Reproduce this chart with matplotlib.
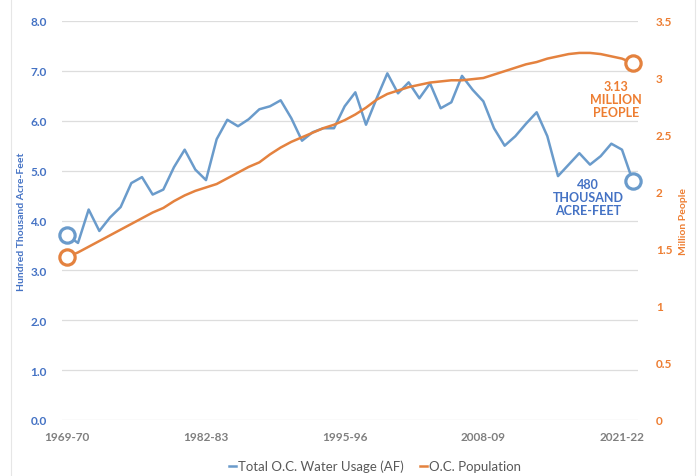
import matplotlib.pyplot as plt
from matplotlib.patches import Rectangle

# water usage (hundred thousand acre-feet) and population (millions), 1969-70 .. 2022-23
water_usage = [3.70, 3.55, 4.22, 3.79, 4.06, 4.27, 4.75, 4.87, 4.52, 4.62,
               5.07, 5.42, 5.02, 4.81, 5.63, 6.02, 5.89, 6.03, 6.23, 6.29,
               6.41, 6.05, 5.60, 5.77, 5.85, 5.85, 6.29, 6.57, 5.92, 6.45,
               6.95, 6.55, 6.77, 6.45, 6.75, 6.25, 6.37, 6.90, 6.62, 6.39,
               5.85, 5.50, 5.69, 5.94, 6.17, 5.69, 4.89, 5.12, 5.35, 5.12,
               5.29, 5.54, 5.42, 4.80]
population = [1.43, 1.47, 1.52, 1.57, 1.62, 1.67, 1.72, 1.77, 1.82, 1.86,
              1.92, 1.97, 2.01, 2.04, 2.07, 2.12, 2.17, 2.22, 2.26, 2.33,
              2.39, 2.44, 2.48, 2.52, 2.56, 2.59, 2.63, 2.68, 2.74, 2.81,
              2.86, 2.89, 2.92, 2.94, 2.96, 2.97, 2.98, 2.98, 2.99, 3.00,
              3.03, 3.06, 3.09, 3.12, 3.14, 3.17, 3.19, 3.21, 3.22, 3.22,
              3.21, 3.19, 3.17, 3.13]
years = [f"{y}-{(y + 1) % 100:02d}" for y in range(1969, 2023)]
shown_years = ["1969-70", "1982-83", "1995-96", "2008-09", "2021-22"]

water_label = "Total O.C. Water Usage (AF)"
pop_label = "O.C. Population"
water_note = "480\nTHOUSAND\nACRE-FEET"
pop_note = "3.13\nMILLION\nPEOPLE"

line_blue = "#6A9BCB"
line_orange = "#E4823F"
text_blue = "#4472C4"
text_orange = "#ED7D31"
grey = "#7F7F7F"

plt.rcParams['font.family'] = ['Lato', 'DejaVu Sans']

fig = plt.figure(figsize=(6.99, 4.77), dpi=100)
ax = fig.add_axes([62 / 699, 1 - 421 / 477, 576 / 699, 399 / 477])
ax2 = ax.twinx()

x = list(range(len(years)))
l1, = ax.plot(x, water_usage, color=line_blue, lw=1.8, zorder=3)
l2, = ax2.plot(x, population, color=line_orange, lw=1.8, zorder=3)

# open end markers
for a, vals, c in [(ax, water_usage, line_blue), (ax2, population, line_orange)]:
    a.plot([x[0], x[-1]], [vals[0], vals[-1]], 'o', ms=11, mfc='white',
           mec=c, mew=2.3, zorder=4, clip_on=False)

ax.set_xlim(-0.5, len(years) - 0.5)
ax.set_ylim(0, 8)
ax2.set_ylim(0, 3.5)
ax.set_yticks([i for i in range(9)])
ax.set_yticklabels([f"{i:.1f}" for i in range(9)])
ax2.set_yticks([i * 0.5 for i in range(8)])
ax2.set_yticklabels(["0", "0.5", "1", "1.5", "2", "2.5", "3", "3.5"])
ax.set_xticks([years.index(y) for y in shown_years])
ax.set_xticklabels(shown_years)

ax.grid(axis='y', color='#DDDDDD', lw=0.9)
ax.set_axisbelow(True)
for a in (ax, ax2):
    for s in a.spines.values():
        s.set_visible(False)
ax.tick_params(axis='y', length=0, pad=11, labelsize=8.5, labelcolor=text_blue)
ax2.tick_params(axis='y', length=0, pad=13, labelsize=8.5, labelcolor=text_orange)
ax.tick_params(axis='x', length=0, pad=8, labelsize=8.5, labelcolor=grey)
for t in ax.get_yticklabels() + ax2.get_yticklabels() + ax.get_xticklabels():
    t.set_fontweight('bold')

ax.set_ylabel("Hundred Thousand Acre-Feet", color=text_blue, fontsize=7.5,
              fontweight='bold', labelpad=3)
ax2.set_ylabel("Million People", color=text_orange, fontsize=7.5,
               fontweight='bold', labelpad=5)

ax.annotate(water_note, xy=(x[-1], water_usage[-1]), xytext=(-32, -12),
            textcoords='offset points', ha='center', va='center',
            color=text_blue, fontsize=9, fontweight='bold', linespacing=1.1)
ax2.annotate(pop_note, xy=(x[-1], population[-1]), xytext=(-12, -26),
             textcoords='offset points', ha='center', va='center',
             color=text_orange, fontsize=9, fontweight='bold', linespacing=1.1)

fig.legend([l1, l2], [water_label, pop_label], loc='center',
           bbox_to_anchor=(375 / 699, 1 - 467 / 477), ncol=2, frameon=False,
           fontsize=9.5, labelcolor='#595959', handlelength=0.5, handletextpad=0.15,
           columnspacing=1.3)

fig.patches.append(Rectangle((11 / 699, -0.01), 684 / 699, 1.02, transform=fig.transFigure,
                             fill=False, edgecolor='#E6E6E6', lw=0.8))

fig.savefig("out.png", dpi=100)
